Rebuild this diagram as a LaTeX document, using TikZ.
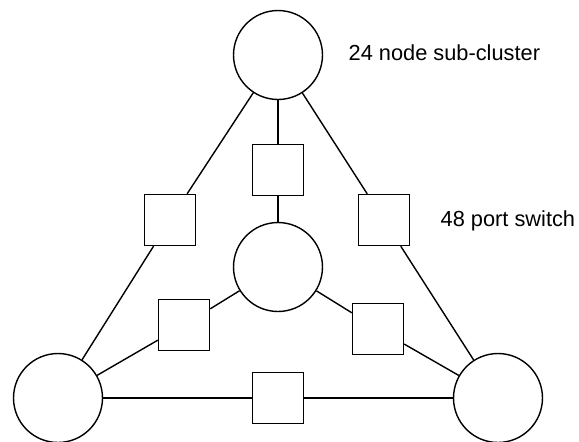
\documentclass[tikz,border=0pt]{standalone}
\usepackage{fontspec}
\setmainfont{Liberation Sans}
\begin{document}
\begin{tikzpicture}[x=0.02cm, y=-0.02cm, line width=0.8pt,
        cluster/.style={draw, circle, minimum size=1.78cm, inner sep=0pt},
        switch/.style={draw, rectangle, minimum size=1.02cm, inner sep=0pt, fill=white},
        note/.style={anchor=west, inner sep=0pt, font=\fontsize{12.4}{14}\selectfont}]
        \useasboundingbox (0,0) rectangle (579,441);

        % 1. The sub-clusters (circles)
        \node[cluster] (T) at (278, 55) {};   % Top
        \node[cluster] (M) at (278, 267) {};  % Middle
        \node[cluster] (L) at (58, 398) {};   % Bottom Left
        \node[cluster] (R) at (498, 398) {};  % Bottom Right

        % 2. The switches (squares), one on each link
        \node[switch] (TM) at (278, 170) {};  % Top - Middle
        \node[switch] (TL) at (170, 220) {};  % Top - Left
        \node[switch] (TR) at (384, 220) {};  % Top - Right
        \node[switch] (ML) at (184, 325) {};  % Middle - Left
        \node[switch] (MR) at (378, 329) {};  % Middle - Right
        \node[switch] (LR) at (278, 398) {};  % Left - Right

        % 3. The links, each passing through its switch
        \foreach \a/\s/\b in {T/TM/M, T/TL/L, T/TR/R, M/ML/L, M/MR/R, L/LR/R}
            \draw (\a) -- (\s) -- (\b);

        % 4. Labels
        \node[note] (clusterlabel) at (348, 53) {24 node sub-cluster};
        \node[note] (switchlabel) at (440, 221) {48 port switch};

\end{tikzpicture}
\end{document}
